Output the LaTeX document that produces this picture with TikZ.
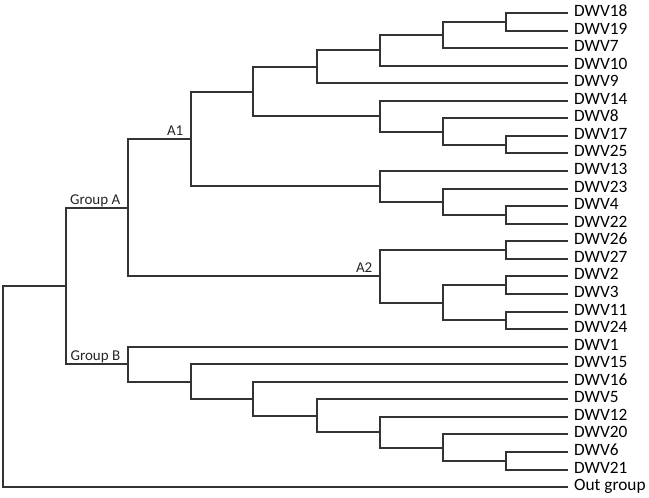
\documentclass[tikz,border=0pt]{standalone}
\usepackage{fontspec}
\setmainfont{Carlito}
\usepackage{tikz}

\begin{document}
\begin{tikzpicture}[x=1pt, y=-1pt,
    branch/.style={draw=black!80, line width=2pt},
    leaf/.style={anchor=west, inner xsep=6pt, inner ysep=0pt,
      text height=12pt, text depth=6pt, font=\fontsize{17.3}{20}\selectfont},
    clade/.style={anchor=base east, inner xsep=7.5pt, yshift=4pt,
      font=\fontsize{15}{18}\selectfont, text=black!85}]

  \useasboundingbox (0,0) rectangle (649,498);

  % leaves
  \foreach \name [count=\i from 0] in {DWV18,DWV19,DWV7,DWV10,DWV9,DWV14,
      DWV8,DWV17,DWV25,DWV13,DWV23,DWV4,DWV22,DWV26,DWV27,DWV2,DWV3,
      DWV11,DWV24,DWV1,DWV15,DWV16,DWV5,DWV12,DWV20,DWV6,DWV21}
    \node[leaf] (\name) at (568,{round(13+17.56*\i)}) {\name};
  \node[leaf] (out) at (568,487) {Out group};

  % internal nodes
  \coordinate (root) at (3,387);
  \coordinate (ingroup) at (66,286);
  \coordinate (groupA) at (128,208);
  \coordinate (groupB) at (128,364);
  \coordinate (A1) at (191,139);
  \coordinate (A2) at (380,276);
  \coordinate (a1u) at (253,92);
  \coordinate (a1l) at (380,186);
  \coordinate (c1) at (317,67);
  \coordinate (c11) at (380,50);
  \coordinate (c111) at (443,35);
  \coordinate (c1111) at (506,22);
  \coordinate (c2) at (380,116);
  \coordinate (c21) at (443,132);
  \coordinate (c211) at (506,145);
  \coordinate (d1) at (443,202);
  \coordinate (d11) at (506,215);
  \coordinate (e1) at (506,250);
  \coordinate (e2) at (443,303);
  \coordinate (e21) at (506,285);
  \coordinate (e22) at (506,320);
  \coordinate (f1) at (191,382);
  \coordinate (f2) at (253,399);
  \coordinate (f3) at (317,416);
  \coordinate (f4) at (380,432);
  \coordinate (f5) at (443,448);
  \coordinate (f6) at (506,461);

  % branches
  \foreach \p/\c in {root/ingroup, root/out, ingroup/groupA, ingroup/groupB,
      groupA/A1, groupA/A2, A1/a1u, A1/a1l, a1u/c1, a1u/c2,
      c1/c11, c1/DWV9, c11/c111, c11/DWV10, c111/c1111, c111/DWV7,
      c1111/DWV18, c1111/DWV19, c2/DWV14, c2/c21, c21/DWV8, c21/c211,
      c211/DWV17, c211/DWV25, a1l/DWV13, a1l/d1, d1/DWV23, d1/d11,
      d11/DWV4, d11/DWV22, A2/e1, A2/e2, e1/DWV26, e1/DWV27,
      e2/e21, e2/e22, e21/DWV2, e21/DWV3, e22/DWV11, e22/DWV24,
      groupB/DWV1, groupB/f1, f1/DWV15, f1/f2, f2/DWV16, f2/f3,
      f3/DWV5, f3/f4, f4/DWV12, f4/f5, f5/DWV20, f5/f6,
      f6/DWV6, f6/DWV21}
    \draw[branch] (\p) |- (\c);

  % clade labels
  \node[clade] (labA) at (groupA) {Group A};
  \node[clade] (labB) at (groupB) {Group B};
  \node[clade] (labA1) at (A1) {A1};
  \node[clade] (labA2) at (A2) {A2};

\end{tikzpicture}
\end{document}
